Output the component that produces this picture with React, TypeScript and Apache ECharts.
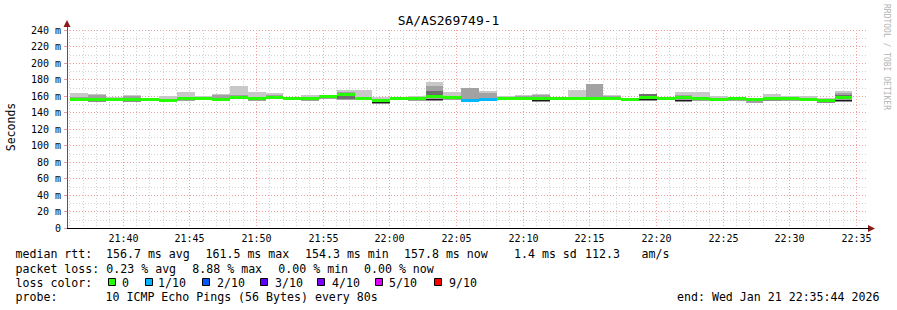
import { useEffect, useRef } from "react";
import * as echarts from "echarts";

// ---- data ----
const barStarts = [
  "21:36:04", "21:37:24", "21:38:44", "21:40:04", "21:41:24", "21:42:44", "21:44:04", "21:45:24",
  "21:46:44", "21:48:04", "21:49:24", "21:50:44", "21:52:04", "21:53:24", "21:54:44", "21:56:04",
  "21:57:24", "21:58:44", "22:00:04", "22:01:24", "22:02:44", "22:04:04", "22:05:24", "22:06:44",
  "22:08:04", "22:09:24", "22:10:44", "22:12:04", "22:13:24", "22:14:44", "22:16:04", "22:17:24",
  "22:18:44", "22:20:04", "22:21:24", "22:22:44", "22:24:04", "22:25:24", "22:26:44", "22:28:04",
  "22:29:24", "22:30:44", "22:32:04", "22:33:24",
];
const STEP_S = 80;
// median rtt (ms)
const medianRtt = [
  156.0, 156.0, 155.5, 156.0, 155.8, 155.0, 157.0, 156.5, 155.5, 158.0, 156.5, 158.5,
  157.2, 156.4, 159.2, 162.0, 156.8, 154.3, 157.2, 156.4, 159.6, 157.6, 154.7, 155.2,
  156.4, 157.4, 157.0, 156.4, 157.0, 157.0, 156.5, 155.2, 158.4, 156.4, 157.6, 156.4,
  155.2, 156.8, 156.0, 157.0, 156.4, 155.2, 155.0, 157.6,
];
// highest ping (ms)
const maxRtt = [
  164.0, 162.4, 158.6, 161.6, 157.5, 160.0, 165.3, 159.5, 162.8, 172.5, 164.8, 163.6,
  158.5, 161.5, 160.5, 167.3, 167.3, 158.5, 158.5, 160.6, 177.4, 165.0, 170.0, 166.0,
  159.6, 161.0, 162.8, 157.6, 167.7, 174.5, 161.0, 157.5, 163.0, 158.0, 164.8, 165.0,
  160.0, 158.5, 157.5, 162.4, 160.0, 160.0, 157.5, 166.4,
];
// upper edge of the denser smoke (ms)
const innerTop = [
  159.0, 161.0, 156.5, 160.5, 156.5, 156.5, 158.5, 157.0, 161.5, 161.0, 157.5, 161.5,
  158.0, 157.0, 159.5, 165.0, 158.0, 156.5, 158.0, 157.0, 172.0, 159.0, 170.0, 163.5,
  157.0, 160.5, 161.0, 157.0, 158.0, 174.5, 160.0, 156.0, 162.0, 157.0, 161.5, 158.0,
  157.0, 157.5, 156.5, 158.5, 157.0, 156.5, 156.0, 163.5,
];
// lowest ping (ms)
const minRtt = [
  154.0, 154.0, 153.5, 154.0, 154.0, 153.5, 154.0, 155.0, 154.0, 156.0, 154.5, 156.5,
  155.5, 154.5, 156.5, 155.5, 155.0, 152.5, 155.5, 154.5, 155.5, 155.5, 153.5, 154.0,
  155.0, 155.0, 154.0, 155.0, 155.0, 155.0, 155.0, 153.5, 155.5, 155.0, 155.5, 154.5,
  153.5, 153.5, 152.0, 155.0, 154.5, 153.5, 153.5, 155.5,
];
// darkest smoke band (ms), 0 = none
const coreLo = [
  0, 0, 0, 0, 0, 0, 0, 0, 0, 0, 0, 0,
  0, 0, 0, 156.5, 0, 0, 0, 0, 161.0, 0, 0, 0,
  0, 0, 0, 0, 0, 0, 0, 0, 159.0, 0, 0, 0,
  0, 0, 0, 0, 0, 0, 0, 158.5,
];
const coreHi = [
  0, 0, 0, 0, 0, 0, 0, 0, 0, 0, 0, 0,
  0, 0, 0, 160.0, 0, 0, 0, 0, 166.0, 0, 0, 0,
  0, 0, 0, 0, 0, 0, 0, 0, 162.0, 0, 0, 0,
  0, 0, 0, 0, 0, 0, 0, 161.0,
];
// near-black smoke line (ms), 0 = none
const blackLine = [
  0, 155.2, 0, 155.0, 0, 0, 0, 0, 0, 0, 0, 0,
  0, 0, 0, 0, 0, 153.2, 0, 0, 156.5, 0, 0, 0,
  0, 0, 155.0, 0, 0, 0, 0, 0, 155.8, 0, 155.5, 0,
  0, 0, 0, 155.8, 0, 0, 154.5, 155.5,
];
// lost pings out of 10
const lostPings = [
  0, 0, 0, 0, 0, 0, 0, 0, 0, 0, 0, 0,
  0, 0, 0, 0, 0, 0, 0, 0, 0, 0, 1, 1,
  0, 0, 0, 0, 0, 0, 0, 0, 0, 0, 0, 0,
  0, 0, 0, 0, 0, 0, 0, 0,
];

const X_START = "21:35:50";
const X_END = "22:35:50";
const timeLabels = ["21:40", "21:45", "21:50", "21:55", "22:00", "22:05", "22:10", "22:15", "22:20", "22:25", "22:30", "22:35"];

const lossLevels = ["0", "1/10", "2/10", "3/10", "4/10", "5/10", "9/10"];
const lossColors = ["#26ff00", "#00b8ff", "#0059ff", "#5e00ff", "#7e00ff", "#dd00ff", "#ff0000"];
const lossLost = [0, 1, 2, 3, 4, 5, 9];

const statsRtt = ["median rtt:", "156.7 ms avg", "161.5 ms max", "154.3 ms min", "157.8 ms now", "1.4 ms sd", "112.3", "am/s"];
const statsLoss = ["packet loss:", "0.23 % avg", "8.88 % max", "0.00 % min", "0.00 % now"];
const probeText = ["probe:", "10 ICMP Echo Pings (56 Bytes) every 80s"];
const endText = "end: Wed Jan 21 22:35:44 2026";
const TITLE = "SA/AS269749-1";

// ---- helpers ----
const toSec = (s: string) => {
  const p = s.split(":").map(Number);
  return p[0] * 3600 + p[1] * 60 + (p[2] || 0);
};
const X_MIN = toSec(X_START);
const X_MAX = toSec(X_END);
const MONO = "'DejaVu Sans Mono', monospace";

const lossColor = (lost: number) => {
  let c = lossColors[0];
  for (let i = 0; i < lossLost.length; i++) if (lost >= lossLost[i]) c = lossColors[i];
  return c;
};

export default function App() {
  const ref = useRef<HTMLDivElement>(null);
  useEffect(() => {
    if (!ref.current) return;
    const chart = echarts.init(ref.current, null, { renderer: "svg" });

    // minute grid positions
    const gridMinutes: number[][] = [];
    const gridLabel: string[] = [];
    for (let t = Math.ceil(X_MIN / 60) * 60; t <= X_MAX; t += 60) {
      const hh = String(Math.floor(t / 3600)).padStart(2, "0");
      const mm = String(Math.floor((t % 3600) / 60)).padStart(2, "0");
      const lab = `${hh}:${mm}`;
      const major = timeLabels.indexOf(lab) >= 0;
      gridMinutes.push([t, major ? 1 : 0]);
      gridLabel.push(major ? lab : "");
    }

    const smokeData = barStarts.map((s, i) => [
      toSec(s), minRtt[i], maxRtt[i], innerTop[i], medianRtt[i], lostPings[i], coreLo[i], coreHi[i], blackLine[i],
    ]);

    const legendGraphics: any[] = [];
    const txt = (x: number, y: number, text: string, extra: any = {}) => ({
      type: "text",
      x,
      y,
      silent: true,
      style: { text, fill: "#000", font: `11.6px ${MONO}`, align: "left", verticalAlign: "middle", ...extra },
    });
    const rttX = [15.5, 106, 205.5, 305, 404, 514, 585, 641.5];
    statsRtt.forEach((s, i) => legendGraphics.push(txt(rttX[i], 254, s)));
    const lossX = [15.5, 106.3, 192.3, 278.3, 364];
    statsLoss.forEach((s, i) => legendGraphics.push(txt(lossX[i], 268.5, s)));
    legendGraphics.push(txt(15.5, 282.5, "loss color:"));
    const boxX = [108.5, 145.5, 202.5, 260.5, 317.5, 375.5, 434.5];
    const labX = [122, 158, 217, 275, 332, 389, 449];
    lossLevels.forEach((l, i) => {
      legendGraphics.push({
        type: "rect",
        silent: true,
        shape: { x: boxX[i], y: 278.5, width: 7, height: 7 },
        style: { fill: lossColors[i], stroke: "#000", lineWidth: 1 },
      });
      legendGraphics.push(txt(labX[i], 282.5, l));
    });
    legendGraphics.push(txt(15.5, 296.5, probeText[0]));
    legendGraphics.push(txt(105.5, 296.5, probeText[1]));
    legendGraphics.push(txt(677, 296.5, endText));

    const option: any = {
      animation: false,
      backgroundColor: "#ffffff",
      title: {
        text: TITLE,
        left: "center",
        top: 9,
        textStyle: { fontFamily: MONO, fontSize: 13, fontWeight: "normal", color: "#000" },
      },
      grid: { left: 67, right: 30, top: 30, bottom: 82 },
      xAxis: {
        type: "value",
        min: X_MIN,
        max: X_MAX,
        axisLabel: { show: false },
        axisTick: { show: false },
        splitLine: { show: false },
        axisLine: { show: true, lineStyle: { color: "#000", width: 1 } },
      },
      yAxis: {
        type: "value",
        min: 0,
        max: 240,
        interval: 20,
        axisLabel: {
          formatter: (v: number) => (v === 0 ? "0" : `${v} m`),
          fontFamily: MONO,
          fontSize: 10,
          color: "#000",
          margin: 6,
        },
        axisLine: { show: true, lineStyle: { color: "#555", width: 1 } },
        axisTick: { show: true, length: 3, lineStyle: { color: "#e8a0a0" } },
        splitLine: { show: true, lineStyle: { color: "#f0a0a0", type: [1, 2], width: 1 } },
        minorTick: { show: false, splitNumber: 2 },
        minorSplitLine: { show: true, lineStyle: { color: "#d2d2d2", type: [1, 2], width: 1 } },
      },
      series: [
        {
          type: "custom",
          z: 1,
          silent: true,
          data: gridMinutes,
          renderItem: (params: any, api: any) => {
            const t = api.value(0);
            const major = api.value(1) === 1;
            const top = api.coord([t, 240]);
            const bot = api.coord([t, 0]);
            const x = Math.round(top[0]) + 0.5;
            const children: any[] = [
              {
                type: "line",
                shape: { x1: x, y1: top[1], x2: x, y2: bot[1] },
                style: { stroke: major ? "#f0a0a0" : "#d2d2d2", lineWidth: 1, lineDash: [1, 2] },
              },
            ];
            if (major) {
              children.push({
                type: "text",
                x,
                y: bot[1] + 10,
                style: {
                  text: gridLabel[params.dataIndex],
                  font: `10px ${MONO}`,
                  fill: "#000",
                  align: "center",
                  verticalAlign: "middle",
                },
              });
            }
            return { type: "group", children };
          },
        },
        {
          type: "custom",
          z: 3,
          silent: true,
          data: smokeData,
          renderItem: (params: any, api: any) => {
            const t = api.value(0);
            const x0 = Math.round(api.coord([t, 0])[0]);
            const x1 = Math.round(api.coord([t + STEP_S, 0])[0]);
            const w = x1 - x0;
            const Y = (v: number) => api.coord([t, v])[1];
            const band = (a: number, b: number, fill: string) => {
              const ya = Math.round(Y(a));
              const yb = Math.round(Y(b));
              return {
                type: "rect",
                shape: { x: x0, y: Math.min(ya, yb), width: w, height: Math.max(1, Math.abs(yb - ya)) },
                style: { fill },
              };
            };
            const children: any[] = [];
            children.push(band(api.value(1), api.value(2), "#c8c8c8"));
            children.push(band(api.value(1), api.value(3), "#a2a2a2"));
            const cl = api.value(6);
            const ch = api.value(7);
            if (cl > 0 && ch > 0) children.push(band(cl, ch, "#6e6e6e"));
            const bl = api.value(8);
            if (bl > 0) {
              const yb = Math.round(Y(bl));
              children.push({ type: "rect", shape: { x: x0, y: yb, width: w, height: 1.5 }, style: { fill: "#1c1c1c" } });
            }
            const ym = Y(api.value(4));
            children.push({
              type: "rect",
              shape: { x: x0, y: Math.round(ym - 1.5), width: w, height: 3 },
              style: { fill: lossColor(api.value(5)) },
            });
            return { type: "group", children };
          },
        },
      ],
      graphic: [
        {
          type: "polygon",
          silent: true,
          shape: { points: [[67, 20], [63.5, 27], [70.5, 27]] },
          style: { fill: "#8b1a1a" },
        },
        {
          type: "polygon",
          silent: true,
          shape: { points: [[875, 228.5], [868, 225], [868, 232]] },
          style: { fill: "#8b1a1a" },
        },
        {
          type: "line",
          silent: true,
          shape: { x1: 67.5, y1: 27, x2: 67.5, y2: 30 },
          style: { stroke: "#555", lineWidth: 1 },
        },
        {
          type: "line",
          silent: true,
          shape: { x1: 866, y1: 228.5, x2: 869, y2: 228.5 },
          style: { stroke: "#000", lineWidth: 1 },
        },
        {
          type: "text",
          silent: true,
          x: 11,
          y: 127,
          rotation: Math.PI / 2,
          style: { text: "Seconds", font: `11.5px ${MONO}`, fill: "#000", align: "center", verticalAlign: "middle" },
        },
        {
          type: "text",
          silent: true,
          x: 886,
          y: 4,
          rotation: -Math.PI / 2,
          style: { text: "RRDTOOL / TOBI OETIKER", font: `8px ${MONO}`, fill: "#b4b4b4", align: "left", verticalAlign: "middle" },
        },
        ...legendGraphics,
      ],
    };
    chart.setOption(option);
    return () => chart.dispose();
  }, []);
  return <div ref={ref} style={{ position: "absolute", left: 0, top: 0, width: 897, height: 310 }} />;
}
